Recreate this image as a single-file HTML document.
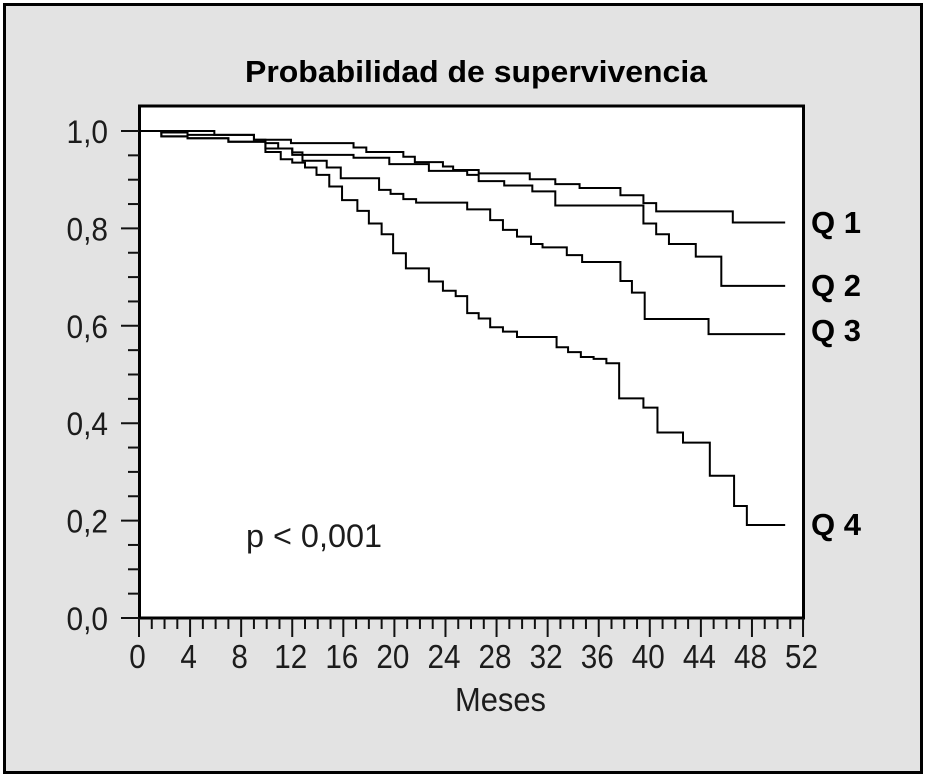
<!DOCTYPE html>
<html lang="es">
<head>
<meta charset="utf-8">
<title>Probabilidad de supervivencia</title>
<style>
html,body{margin:0;padding:0;background:#fff;width:930px;height:780px;overflow:hidden}
svg{display:block}
text{font-family:"Liberation Sans",sans-serif;fill:#1c1c1c}
.bold{font-weight:bold;fill:#000}
</style>
</head>
<body>
<svg id="chart" width="930" height="780" viewBox="0 0 930 780" xmlns="http://www.w3.org/2000/svg">
  <rect x="4.5" y="4.5" width="917" height="768" fill="#e3e3e3" stroke="#000" stroke-width="3"/>
  <rect x="139.5" y="106" width="664" height="512" fill="#fff"/>
  <g id="marks"></g>
  <rect x="139.5" y="106" width="664" height="512" fill="none" stroke="#000" stroke-width="3"/>
  <g id="ticks"></g>
  <text class="bold" x="245" y="82" font-size="31" textLength="462" lengthAdjust="spacingAndGlyphs">Probabilidad de supervivencia</text>
  <text x="455" y="711" font-size="33" textLength="91" lengthAdjust="spacingAndGlyphs">Meses</text>
  <text x="246" y="547" font-size="32" textLength="136" lengthAdjust="spacingAndGlyphs">p &lt; 0,001</text>
  <text class="bold" x="811" y="233" font-size="31">Q 1</text>
  <text class="bold" x="811" y="296" font-size="31">Q 2</text>
  <text class="bold" x="811" y="341" font-size="31">Q 3</text>
  <text class="bold" x="811" y="535" font-size="31">Q 4</text>
</svg>
<script>
const xTicks = [0, 4, 8, 12, 16, 20, 24, 28, 32, 36, 40, 44, 48, 52];
const yTicks = [0, 0.2, 0.4, 0.6, 0.8, 1.0];
const yTickLabels = ["0,0", "0,2", "0,4", "0,6", "0,8", "1,0"];
const endMonth = 50.6;

const q1Months = [0, 5.9, 9, 11.9, 16.8, 17.8, 20.7, 21.6, 23.8, 24.6, 26.6, 30.6, 32.6, 34.5, 37.7, 39.5, 40.5, 46.5];
const q1Survival = [1, .992, .982, .975, .966, .957, .947, .936, .927, .92, .913, .901, .891, .883, .868, .852, .835, .812];

const q2Months = [0, 1.75, 3.8, 9, 9.9, 10.9, 12, 12.8, 16.8, 19.6, 22.7, 25.7, 26.6, 28.6, 30.8, 32.6, 39.5, 40.5, 41.5, 43.6, 45.6];
const q2Survival = [1, .997, .992, .982, .975, .964, .956, .951, .945, .932, .918, .91, .897, .888, .876, .847, .81, .788, .768, .742, .682];

const q3Months = [0, 1.75, 3.8, 7, 9.9, 12, 12.8, 14.7, 15.8, 18.8, 19.7, 20.7, 21.7, 25.7, 27.5, 28.5, 29.6, 30.7, 31.6, 33.5, 34.7, 37.7, 38.6, 39.6, 44.6];
const q3Survival = [1, .989, .985, .978, .964, .951, .939, .925, .903, .879, .871, .86, .853, .839, .817, .797, .783, .768, .761, .745, .731, .692, .668, .614, .583];

const q4Months = [0, 1.75, 3.8, 7, 9.9, 11.1, 12, 13, 13.9, 14.9, 15.9, 17.1, 18, 19, 19.9, 20.9, 22.7, 23.8, 24.8, 25.7, 26.6, 27.5, 28.5, 29.6, 32.7, 33.6, 34.6, 35.6, 36.6, 37.6, 39.5, 40.6, 42.6, 44.7, 46.6, 47.6];
const q4Survival = [1, .989, .985, .978, .957, .942, .935, .925, .91, .886, .858, .836, .81, .788, .749, .718, .691, .672, .661, .626, .615, .597, .588, .577, .556, .546, .536, .532, .523, .451, .432, .381, .36, .292, .23, .191];

const seriesNames = ["q1-curve", "q2-curve", "q3-curve", "q4-curve"];

const NS = "http://www.w3.org/2000/svg";
const xScale = function (m) { return 139 + m * 12.77; };
const yScale = function (s) { return 618 - s * 487; };
const marks = document.getElementById("marks");
const ticks = document.getElementById("ticks");

function tickLine(x1, y1, x2, y2, w) {
  const l = document.createElementNS(NS, "line");
  l.setAttribute("x1", x1);
  l.setAttribute("y1", y1);
  l.setAttribute("x2", x2);
  l.setAttribute("y2", y2);
  l.setAttribute("stroke", "#111");
  l.setAttribute("stroke-width", w);
  
  
  ticks.appendChild(l);
}

function label(str, x, y, anchor, size, len) {
  const t = document.createElementNS(NS, "text");
  t.setAttribute("x", x);
  t.setAttribute("y", y);
  t.setAttribute("text-anchor", anchor);
  t.setAttribute("font-size", size);
  t.setAttribute("textLength", len);
  t.setAttribute("lengthAdjust", "spacingAndGlyphs");
  t.textContent = str;
  
  
  document.getElementById("chart").appendChild(t);
}

for (let m = 0; m <= xTicks[xTicks.length - 1]; m++) {
  const major = xTicks.indexOf(m) >= 0;
  tickLine(xScale(m), 618, xScale(m), major ? 637 : 629, 2);
}
xTicks.forEach(function (m) {
  const str = String(m);
  label(str, xScale(m) - 1.5, 668, "middle", 33, str.length * 16.5);
});

for (let i = 0; i <= 20; i++) {
  const major = i % 4 === 0;
  tickLine(major ? 121 : 128, yScale(i * 0.05), 139, yScale(i * 0.05), 2);
}
yTicks.forEach(function (v, i) {
  label(yTickLabels[i], 108, yScale(v) + 12, "end", 32, 41.5);
});

function drawSeries(months, survival, name) {
  let d = "M" + xScale(months[0]) + " " + yScale(survival[0]);
  for (let i = 1; i < months.length; i++) {
    d += "H" + xScale(months[i]) + "V" + yScale(survival[i]);
  }
  d += "H" + xScale(endMonth);
  const p = document.createElementNS(NS, "path");
  p.setAttribute("d", d);
  p.setAttribute("fill", "none");
  p.setAttribute("stroke", "#000");
  p.setAttribute("stroke-width", "2");
  
  
  marks.appendChild(p);
}

drawSeries(q1Months, q1Survival, seriesNames[0]);
drawSeries(q2Months, q2Survival, seriesNames[1]);
drawSeries(q3Months, q3Survival, seriesNames[2]);
drawSeries(q4Months, q4Survival, seriesNames[3]);
</script>
</body>
</html>
